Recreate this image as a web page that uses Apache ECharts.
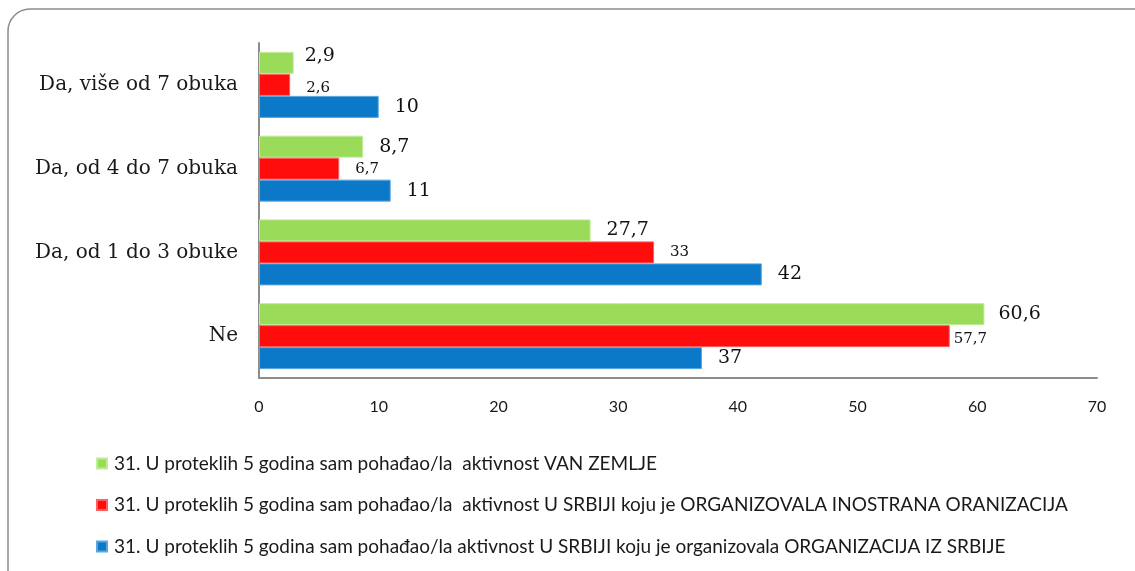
<!DOCTYPE html>
<html>
<head>
<meta charset="utf-8">
<script src="https://cdn.jsdelivr.net/npm/echarts@6/dist/echarts.min.js"></script>
<style>
  html, body { margin: 0; padding: 0; background: #fff; }
  #chart { width: 1135px; height: 571px; }
</style>
</head>
<body>
<div id="chart"></div>
<script>
// kategorije, odozdo prema gore (kao u Excel-u)
var categories = ['Ne', 'Da, od 1 do 3 obuke', 'Da, od 4 do 7 obuka', 'Da, više od 7 obuka'];

var nameVan = '31. U proteklih 5 godina sam pohađao/la  aktivnost VAN ZEMLJE';
var nameIno = '31. U proteklih 5 godina sam pohađao/la  aktivnost U SRBIJI koju je ORGANIZOVALA INOSTRANA ORANIZACIJA';
var nameSrb = '31. U proteklih 5 godina sam pohađao/la aktivnost U SRBIJI koju je organizovala ORGANIZACIJA IZ SRBIJE';

var vanZemlje = [60.6, 27.7, 8.7, 2.9];
var inostrana = [57.7, 33, 6.7, 2.6];
var izSrbije = [37, 42, 11, 10];

var xTicks = [0, 10, 20, 30, 40, 50, 60, 70];

var chart = echarts.init(document.getElementById('chart'));

function fmt(p) {
	return String(p.value).replace('.', ',');
}

// rucno pomjerene etikete (kao u originalu)
function withOffsets(values, offsets) {
	var out = [];
	for (var i = 0; i < values.length; i++) {
		var item = { value: values[i] };
		if (offsets[i]) {
			item.label = { offset: offsets[i] };
		}
		out.push(item);
	}
	return out;
}

var serif = '"DejaVu Serif", "Liberation Serif", serif';
var sans = 'Lato, "Open Sans", sans-serif';

var option = {
	animation: false,
	backgroundColor: '#fff',
	graphic: [{
		type: 'rect',
		shape: { x: 8, y: 9, width: 1150, height: 590, r: 22 },
		style: { fill: 'none', stroke: '#8c8c8c', lineWidth: 1.5 },
		z: -1
	}],
	grid: {
		left: 259,
		right: 38,
		top: 43,
		bottom: 193
	},
	legend: {
		orient: 'vertical',
		left: 96,
		top: 454,
		padding: 0,
		itemWidth: 10,
		itemHeight: 10,
		itemGap: 22.5,
		icon: 'rect',
		data: [nameVan, nameIno, nameSrb],
		textStyle: {
			fontFamily: sans,
			fontSize: 19,
			color: '#1a1a1a',
			padding: [0, 0, 0, 2]
		}
	},
	xAxis: {
		type: 'value',
		min: 0,
		max: 70,
		interval: 10,
		axisLine: { show: true, lineStyle: { color: '#8c8c8c', width: 2 } },
		axisTick: { show: false },
		splitLine: { show: false },
		axisLabel: {
			margin: 21,
			fontFamily: sans,
			fontSize: 16,
			color: '#1a1a1a',
			formatter: function(v) {
				return xTicks.indexOf(v) >= 0 ? String(v) : '';
			}
		}
	},
	yAxis: {
		type: 'category',
		data: categories,
		axisLine: { show: true, lineStyle: { color: '#8c8c8c', width: 2 } },
		axisTick: { show: false },
		axisLabel: {
			margin: 21,
			fontFamily: serif,
			fontSize: 20,
			color: '#1a1a1a'
		}
	},
	series: [{
		name: nameVan,
		type: 'bar',
		barWidth: 22,
		barGap: '0%',
		data: withOffsets(vanZemlje, [[-2, 0], null, null, [-5, -7]]),
		itemStyle: { color: '#9bdb5a', borderColor: '#c2ec98', borderWidth: 1 },
		label: {
			show: true,
			position: 'right',
			distance: 16,
			formatter: fmt,
			fontFamily: serif,
			fontSize: 19,
			color: '#111'
		}
	}, {
		name: nameIno,
		type: 'bar',
		barWidth: 22,
		barGap: '0%',
		data: withOffsets(inostrana, [[-12, 3], null, null, [0, 3]]),
		itemStyle: { color: '#ff0c0c', borderColor: '#ff6060', borderWidth: 1 },
		label: {
			show: true,
			position: 'right',
			distance: 16,
			formatter: fmt,
			fontFamily: serif,
			fontSize: 15,
			color: '#111'
		}
	}, {
		name: nameSrb,
		type: 'bar',
		barWidth: 22,
		barGap: '0%',
		data: izSrbije,
		itemStyle: { color: '#0b78c8', borderColor: '#5aa6e0', borderWidth: 1 },
		label: {
			show: true,
			position: 'right',
			distance: 16,
			formatter: fmt,
			fontFamily: serif,
			fontSize: 19,
			color: '#111'
		}
	}]
};

chart.setOption(option);
</script>
</body>
</html>
